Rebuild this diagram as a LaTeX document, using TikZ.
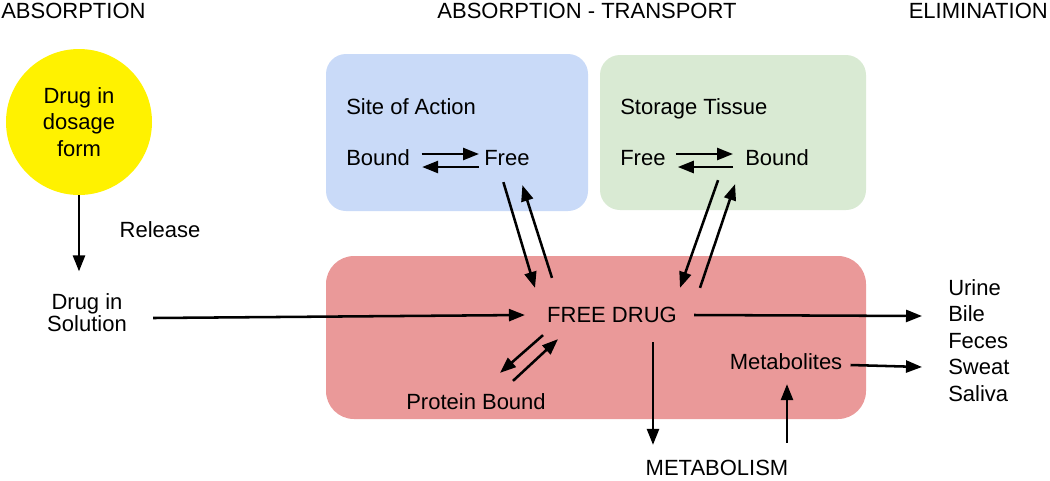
\documentclass[tikz,border=0pt]{standalone}
\usepackage{fontspec}
\setmainfont{Liberation Sans}
\usetikzlibrary{arrows.meta,calc}
\definecolor{siteblue}{RGB}{201,218,248}
\definecolor{storegreen}{RGB}{217,234,211}
\definecolor{drugred}{RGB}{234,153,153}
\tikzset{
  zone/.style={
    rounded corners=15pt,
    inner sep=0pt,
    draw=none
  },
  lbl/.style={inner sep=0pt, text height=11.8pt, text depth=0pt},
  multi/.style={inner sep=0pt, align=center},
  flowarrow/.style={-{Triangle[length=12pt,width=9pt]}, line width=1.9pt}
}

\begin{document}
\begin{tikzpicture}[x=0.75pt, y=-0.75pt, font=\fontsize{16.5}{19.8}\selectfont]
  \useasboundingbox (0,0) rectangle (1050,480);

  % compartments
  \node[zone, fill=siteblue, minimum width=196.5pt, minimum height=117.75pt] (siteBox) at (457,132.5) {};
  \node[zone, fill=storegreen, minimum width=199.5pt, minimum height=116.25pt] (storeBox) at (733,132.5) {};
  \node[zone, fill=drugred, rounded corners=21pt, minimum width=405pt, minimum height=122.25pt] (drugBox) at (596,337.5) {};

  % headings
  \node[lbl, anchor=west] (hAbs) at (1,11) {ABSORPTION};
  \node[lbl] (hTrans) at (587,11) {ABSORPTION - TRANSPORT};
  \node[lbl, anchor=east] (hElim) at (1048,11) {ELIMINATION};

  \node[circle, fill=yellow, minimum size=109.5pt, inner sep=0pt, align=center] (dosage) at (79,122) {Drug in\\dosage\\form};
  \node[lbl] (release) at (160,230) {Release};
  \node[multi, font=\fontsize{16.5}{16.2}\selectfont] (solution) at (87,312.5) {Drug in\\Solution};

  \node[lbl, anchor=west] (siteLbl) at (346,107) {Site of Action};
  \node[lbl, anchor=west] (sBound) at (346,158) {Bound};
  \node[lbl, anchor=west] (sFree) at (484,158) {Free};
  \node[lbl, anchor=west] (storeLbl) at (620,107) {Storage Tissue};
  \node[lbl, anchor=west] (tFree) at (620,158) {Free};
  \node[lbl, anchor=west] (tBound) at (745,158) {Bound};

  \node[lbl] (freeDrug) at (612,315) {FREE DRUG};
  \node[lbl] (protein) at (476,402) {Protein Bound};
  \node[lbl] (metab) at (786,362) {Metabolites};
  \node[lbl] (metabolism) at (717,467.5) {METABOLISM};
  \node[multi, align=left, anchor=west] (excreta) at (948,340.5) {Urine\\Bile\\Feces\\Sweat\\Saliva};

  % absorption
  \draw[flowarrow] (dosage.south) -- ($(dosage.south |- solution.north)+(0,-22)$);
  \draw[flowarrow] ($(solution.east)+(26,5.5)$) -- ($(freeDrug.west)+(-22,0)$);

  % equilibria inside the tissues
  \draw[flowarrow] ($(sBound.east)+(11.5,-4)$) -- ($(sFree.west)+(-5,-4)$);
  \draw[flowarrow] ($(sFree.west)+(-5,9)$) -- ($(sBound.east)+(12,9)$);
  \draw[flowarrow] ($(tFree.east)+(10,-4)$) -- ($(tBound.west)+(-12,-4)$);
  \draw[flowarrow] ($(tBound.west)+(-12,9)$) -- ($(tFree.east)+(12,9)$);

  % exchange with the free drug
  \draw[flowarrow] ($(sFree.south)+(-3.5,16)$) -- ($(freeDrug.north)+(-77,-19)$);
  \draw[flowarrow] ($(freeDrug.north)+(-60,-29)$) -- ($(sFree.south)+(15.5,19)$);
  \draw[flowarrow] ($(tBound.south)+(-59,14)$) -- ($(freeDrug.north)+(68,-19)$);
  \draw[flowarrow] ($(freeDrug.north)+(88,-19)$) -- ($(tBound.south)+(-42,18)$);
  \draw[flowarrow] ($(freeDrug.south)+(-69,12)$) -- ($(protein.north)+(24,-21)$);
  \draw[flowarrow] ($(protein.north)+(37,-13)$) -- ($(freeDrug.south)+(-54,16)$);

  % metabolism and elimination
  \draw[flowarrow] ($(freeDrug.south)+(41,19)$) -- ($(metabolism.north)+(-64,-14.5)$);
  \draw[flowarrow] ($(metabolism.north)+(70,-16.5)$) -- ($(metab.south)+(1,14)$);
  \draw[flowarrow] ($(freeDrug.east)+(17,0)$) -- ($(excreta.west)+(-26,-24.5)$);
  \draw[flowarrow] ($(metab.east)+(8,3)$) -- ($(excreta.west)+(-26,26.5)$);
\end{tikzpicture}
\end{document}
